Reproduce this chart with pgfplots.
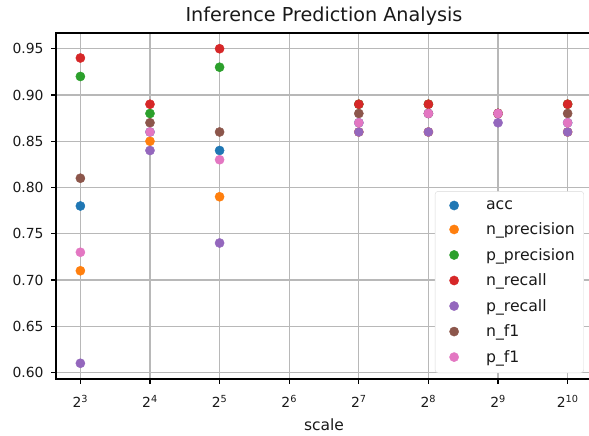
\documentclass[border=0pt]{standalone}
\usepackage{fontspec}
\setmainfont{DejaVu Sans}
\usepackage{pgfplots}
\pgfplotsset{compat=1.18}
\definecolor{c0}{HTML}{1F77B4}
\definecolor{c1}{HTML}{FF7F0E}
\definecolor{c2}{HTML}{2CA02C}
\definecolor{c3}{HTML}{D62728}
\definecolor{c4}{HTML}{9467BD}
\definecolor{c5}{HTML}{8C564B}
\definecolor{c6}{HTML}{E377C2}
\newcommand{\tp}[1]{2\textsuperscript{#1}}
\begin{document}
\begin{tikzpicture}
\begin{axis}[
  at={(0pt,0pt)}, anchor=south west,
  scale only axis, width=536pt, height=346pt,
  xmode=log, log basis x=2,
  xmin=6.276, xmax=1305.2,
  ymin=0.593, ymax=0.967,
  xtick={8,16,32,64,128,256,512,1024},
  xticklabels={\tp{3},\tp{4},\tp{5},\tp{6},\tp{7},\tp{8},\tp{9},\tp{10}},
  minor xtick={},
  ytick={0.60,0.65,0.70,0.75,0.80,0.85,0.90,0.95},
  ticklabel style={font=\fontsize{13.9}{16}\selectfont, text=black!90},
  xticklabel style={anchor=base, yshift=-24pt},
  yticklabel style={xshift=-4pt, /pgf/number format/.cd, fixed, fixed zerofill, precision=2, assume math mode=true},
  tick align=outside, tick pos=left, major tick length=4.9pt,
  tick style={black, line width=1.1pt},
  grid=major, major grid style={color=black!28, line width=1.1pt},
  axis line style={black, line width=1.1pt},
  xlabel={scale}, xlabel style={at={(axis description cs:0.5,0)}, anchor=base, yshift=-52pt, inner sep=0pt, font=\fontsize{15.5}{18}\selectfont, text=black!90},
  title={Inference Prediction Analysis}, title style={at={(axis description cs:0.5,1)}, anchor=base, yshift=5pt, inner sep=0pt, font=\fontsize{19.2}{22}\selectfont, text=black!90},
  legend style={at={(rel axis cs:0.985,0.0173)}, anchor=south east, font=\fontsize{15.7}{18}\selectfont,
    draw=black!15, rounded corners=3pt, cells={anchor=west}, row sep=8.1pt, inner sep=7pt, text=black!90},
  legend cell align=left,
  legend image code/.code={\path[draw=none, fill=none] (0pt,-3pt) rectangle (42pt,3pt); \draw[#1, mark repeat=2, mark phase=2] plot coordinates {(0pt,0pt) (12pt,0pt) (24pt,0pt)};},
  every axis plot/.append style={only marks, mark=*, mark size=4.6pt},
]
\addplot[c0, mark options={draw=c0, fill=c0}] coordinates {(8,0.78) (16,0.86) (32,0.84) (128,0.87) (256,0.88) (512,0.88) (1024,0.87)};
\addlegendentry{acc}
\addplot[c1, mark options={draw=c1, fill=c1}] coordinates {(8,0.71) (16,0.85) (32,0.79) (128,0.86) (256,0.86) (512,0.88) (1024,0.86)};
\addlegendentry{n\_precision}
\addplot[c2, mark options={draw=c2, fill=c2}] coordinates {(8,0.92) (16,0.88) (32,0.93) (128,0.89) (256,0.89) (512,0.88) (1024,0.89)};
\addlegendentry{p\_precision}
\addplot[c3, mark options={draw=c3, fill=c3}] coordinates {(8,0.94) (16,0.89) (32,0.95) (128,0.89) (256,0.89) (512,0.88) (1024,0.89)};
\addlegendentry{n\_recall}
\addplot[c4, mark options={draw=c4, fill=c4}] coordinates {(8,0.61) (16,0.84) (32,0.74) (128,0.86) (256,0.86) (512,0.87) (1024,0.86)};
\addlegendentry{p\_recall}
\addplot[c5, mark options={draw=c5, fill=c5}] coordinates {(8,0.81) (16,0.87) (32,0.86) (128,0.88) (256,0.88) (512,0.88) (1024,0.88)};
\addlegendentry{n\_f1}
\addplot[c6, mark options={draw=c6, fill=c6}] coordinates {(8,0.73) (16,0.86) (32,0.83) (128,0.87) (256,0.88) (512,0.88) (1024,0.87)};
\addlegendentry{p\_f1}
\end{axis}
\pgfresetboundingbox
\path (-56pt,-57pt) rectangle (533pt,379pt);
\end{tikzpicture}
\end{document}
